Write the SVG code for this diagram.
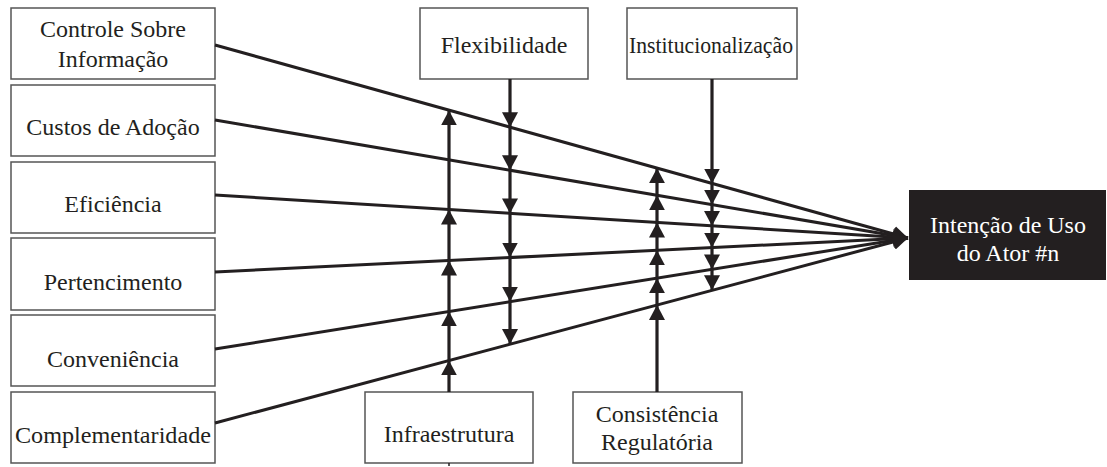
<svg xmlns="http://www.w3.org/2000/svg" width="1107" height="467" viewBox="0 0 1107 467">
<style>
.box{fill:#fff;stroke:#555;stroke-width:1.5}
.t{font-family:"Liberation Serif","Times New Roman",serif;font-size:24px;fill:#231f20;text-anchor:middle}
.w{fill:#fff}
.ln{fill:none;stroke:#231f20;stroke-width:3}
.v{fill:none;stroke:#231f20;stroke-width:3.2;marker-mid:url(#ah);marker-end:url(#ah)}
</style>
<defs>
<marker id="ah" markerUnits="userSpaceOnUse" viewBox="0 0 15 16" refX="15" refY="8" markerWidth="15" markerHeight="16" orient="auto">
<path d="M0,0 L15,8 L0,16 z" fill="#231f20"/>
</marker>
</defs>
<rect width="1107" height="467" fill="#fff"/>
<g id="n-controle"><rect class="box" x="11" y="8" width="204" height="71"/><text class="t" x="113" y="37">Controle Sobre</text><text class="t" x="113" y="67">Informação</text></g>
<g id="n-custos"><rect class="box" x="11" y="85" width="204" height="71"/><text class="t" x="113" y="135">Custos de Adoção</text></g>
<g id="n-eficiencia"><rect class="box" x="11" y="162" width="204" height="71"/><text class="t" x="113" y="212">Eficiência</text></g>
<g id="n-pertencimento"><rect class="box" x="11" y="238" width="204" height="72"/><text class="t" x="113" y="290">Pertencimento</text></g>
<g id="n-conveniencia"><rect class="box" x="11" y="315" width="204" height="71"/><text class="t" x="113" y="367">Conveniência</text></g>
<g id="n-complementaridade"><rect class="box" x="11" y="392" width="204" height="71"/><text class="t" x="113" y="443" textLength="196" lengthAdjust="spacingAndGlyphs">Complementaridade</text></g>
<g id="n-flexibilidade"><rect class="box" x="420" y="8" width="168" height="71"/><text class="t" x="504" y="53">Flexibilidade</text></g>
<g id="n-institucionalizacao"><rect class="box" x="627" y="8" width="170" height="71"/><text class="t" x="711" y="53" textLength="164" lengthAdjust="spacingAndGlyphs">Institucionalização</text></g>
<g id="n-infraestrutura"><rect class="box" x="365" y="392" width="168" height="71"/><text class="t" x="449" y="442">Infraestrutura</text></g>
<g id="n-consistencia"><rect class="box" x="573" y="392" width="169" height="71"/><text class="t" x="657" y="422">Consistência</text><text class="t" x="657" y="450">Regulatória</text></g>
<g id="n-intencao"><rect x="909" y="190" width="197" height="90" fill="#231f20"/><text class="t w" x="1008" y="233">Intenção de Uso</text><text class="t w" x="1008" y="261">do Ator #n</text></g>
<g id="connectors">
<line class="ln" x1="215" y1="45" x2="908" y2="238" marker-end="url(#ah)"/>
<line class="ln" x1="215" y1="120" x2="908" y2="238" marker-end="url(#ah)"/>
<line class="ln" x1="215" y1="195" x2="908" y2="238" marker-end="url(#ah)"/>
<line class="ln" x1="215" y1="272" x2="908" y2="238" marker-end="url(#ah)"/>
<line class="ln" x1="215" y1="349" x2="908" y2="238" marker-end="url(#ah)"/>
<line class="ln" x1="215" y1="423" x2="908" y2="238" marker-end="url(#ah)"/>
<polyline class="v" points="449,392 449,360.4 449,311.4 449,260.5 449,209.6 449,110.4"/>
<polyline class="v" points="510,79 510,127.3 510,170.3 510,213.4 510,257.5 510,301.7 510,344.1"/>
<polyline class="v" points="657,392 657,304.9 657,278.2 657,250.3 657,222.5 657,195.3 657,168.2"/>
<polyline class="v" points="712,79 712,183.5 712,204.7 712,225.9 712,247.6 712,269.4 712,290.2"/>
<line x1="449" y1="463" x2="449" y2="466" stroke="#231f20" stroke-width="1.5"/>
</g>
</svg>
